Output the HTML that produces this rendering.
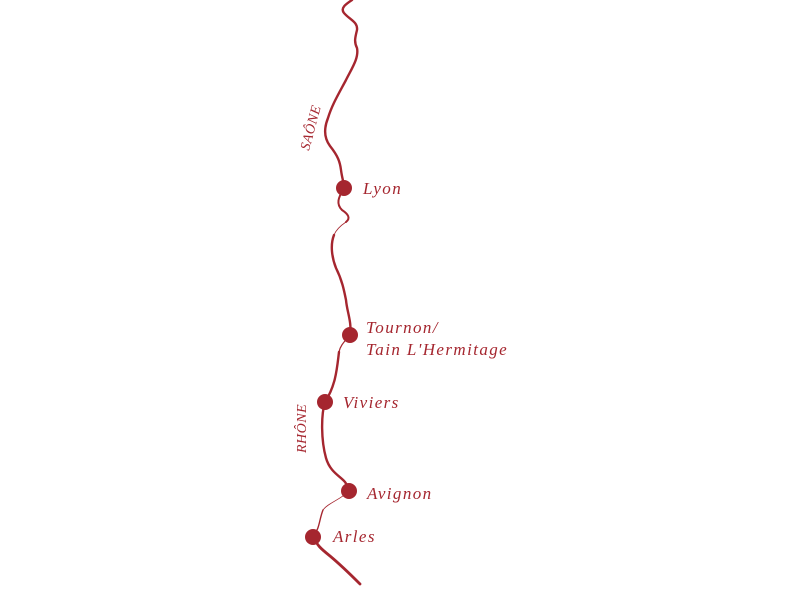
<!DOCTYPE html>
<html><head><style>
html,body{margin:0;padding:0;background:#fff;width:800px;height:600px;overflow:hidden}
text{font-family:"Liberation Serif",serif;font-style:italic;fill:#a5262f}
</style></head><body>
<svg width="800" height="600" viewBox="0 0 800 600" xmlns="http://www.w3.org/2000/svg">
<g fill="none" stroke="#a5262f" stroke-linecap="round" stroke-linejoin="round">
<path stroke-width="2.4" d="M352,0 C346,4 340,8 344,13 C350,20 358,22 357,30 C355,38 354,42 357,48 C359,58 352,68 346,80 C338,95 332,105 328,118 C324,128 324,138 330,146 C338,156 340,162 341,170 C342,178 344,183 344,188"/>
<path stroke-width="2" d="M344,188 C338,198 336,204 342,210 C348,214 351,218 346,222"/>
<path stroke-width="0.8" d="M346,222 C340,226 336,230 334,235"/>
<path stroke-width="2.4" d="M334,235 C330,245 332,258 336,268 C342,280 344,290 346,300 C347,312 352,322 350,335"/>
<path stroke-width="1.2" d="M350,335 C344,342 340,346 339,352"/>
<path stroke-width="2.4" d="M339,352 C337,368 336,385 325,402 C321,415 321,440 326,458 C330,472 340,476 345,482 C348,486 349,490 349,491"/>
<path stroke-width="0.8" d="M349,491 C340,500 328,503 323,510"/>
<path stroke-width="1.4" d="M323,510 C319,520 320,528 313,537"/>
<path stroke-width="2.8" d="M313,537 C318,546 320,548 330,556 C342,566 352,576 360,584"/>
</g>
<g fill="#a5262f">
<circle cx="344" cy="188" r="8"/>
<circle cx="350" cy="335" r="8"/>
<circle cx="325" cy="402" r="8"/>
<circle cx="349" cy="491" r="8"/>
<circle cx="313" cy="537" r="8"/>
</g>
<g font-size="17" letter-spacing="1.4">
<text x="363" y="194">Lyon</text>
<text x="366" y="333">Tournon/</text>
<text x="366" y="355">Tain L'Hermitage</text>
<text x="343" y="408">Viviers</text>
<text x="367" y="499">Avignon</text>
<text x="333" y="542">Arles</text>
</g>
<text font-size="14" letter-spacing="0.5" transform="translate(309,151) rotate(-75)">SAÔNE</text>
<text font-size="14" letter-spacing="0.5" transform="translate(306,453) rotate(-90)">RHÔNE</text>
</svg>
</body></html>
